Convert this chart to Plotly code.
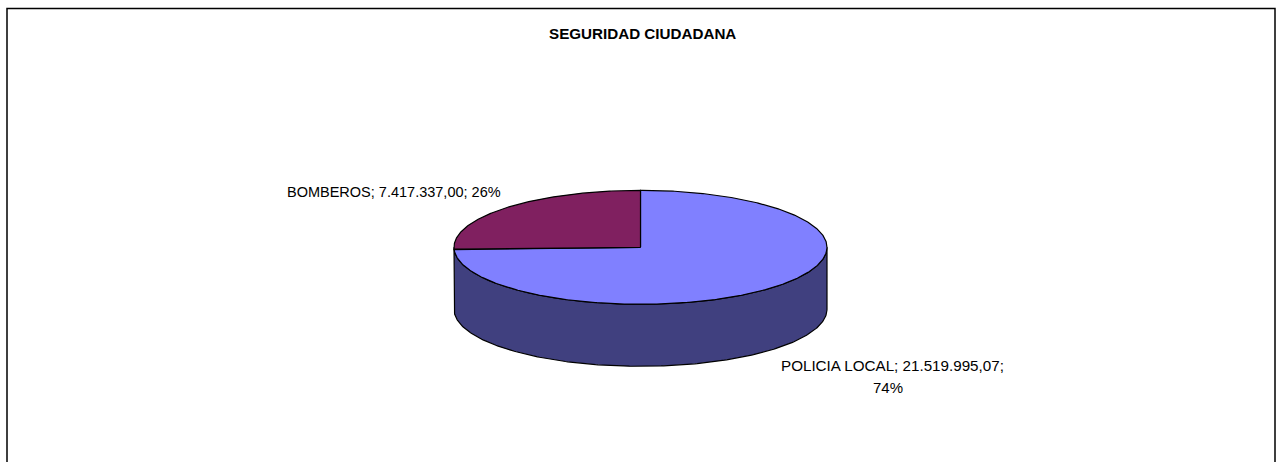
import numpy as np
import plotly.graph_objects as go

TITLE = "SEGURIDAD CIUDADANA"
categories = ["POLICIA LOCAL", "BOMBEROS"]
values = [21519995.07, 7417337.00]
value_labels = ["21.519.995,07", "7.417.337,00"]
top_colors = ["#8080FF", "#802060"]
wall_color = "#40407F"

W, H = 1284, 462
CX, CY, RX, RY, DEPTH = 640.5, 247.3, 186.5, 57.0, 62.0
FONT = "Liberation Sans, Arial, sans-serif"

total = sum(values)
shares = [v / total for v in values]


def ell(theta):
    return CX + RX * np.sin(theta), CY - RY * np.cos(theta)


fig = go.Figure()

# Side wall: front half of the rim, swept downward by the pie's depth
t = np.linspace(np.pi / 2, 3 * np.pi / 2, 240)
x, y = ell(t)
fig.add_trace(go.Scatter(
    x=np.r_[x, x[::-1], x[0]], y=np.r_[y, (y + DEPTH)[::-1], y[0]],
    mode="lines", fill="toself", fillcolor=wall_color,
    line=dict(color="black", width=1.2), hoverinfo="skip", showlegend=False))

# Top slices, clockwise from twelve o'clock
start = 0.0
for name, share, col in zip(categories, shares, top_colors):
    end = start + share * 2 * np.pi
    t = np.linspace(start, end, max(int(share * 720), 8))
    x, y = ell(t)
    fig.add_trace(go.Scatter(
        x=np.r_[CX, x, CX], y=np.r_[CY, y, CY],
        mode="lines", fill="toself", fillcolor=col, name=name,
        line=dict(color="black", width=1.2), showlegend=False))
    start = end

pct = [f"{round(s * 100)}%" for s in shares]
annotations = [
    dict(x=642, y=33, text=f"<b>{TITLE}</b>", font=dict(size=15.2)),
    dict(x=394, y=192, text=f"{categories[1]}; {value_labels[1]}; {pct[1]}", font=dict(size=14.5)),
    dict(x=892, y=365, text=f"{categories[0]}; {value_labels[0]};", font=dict(size=15.2)),
    dict(x=888, y=387, text=pct[0], font=dict(size=15)),
]
for a in annotations:
    a.update(xref="x", yref="y", showarrow=False, xanchor="center", yanchor="middle")
    a["font"].update(family=FONT, color="black")

frame = dict(type="path", xref="x", yref="y",
             path=f"M7,{H} L7,8.5 L1275,8.5 L1275,{H}",
             line=dict(color="black", width=1.5))

fig.update_layout(
    width=W, height=H, margin=dict(l=0, r=0, t=0, b=0),
    paper_bgcolor="white", plot_bgcolor="white", showlegend=False,
    xaxis=dict(range=[0, W], visible=False, fixedrange=True),
    yaxis=dict(range=[H, 0], visible=False, fixedrange=True),
    annotations=annotations, shapes=[frame],
)

fig.write_html(
    "out.html",
    config=dict(displayModeBar=False),
    post_script="document.body.style.margin='0';document.body.style.overflow='hidden';",
)
